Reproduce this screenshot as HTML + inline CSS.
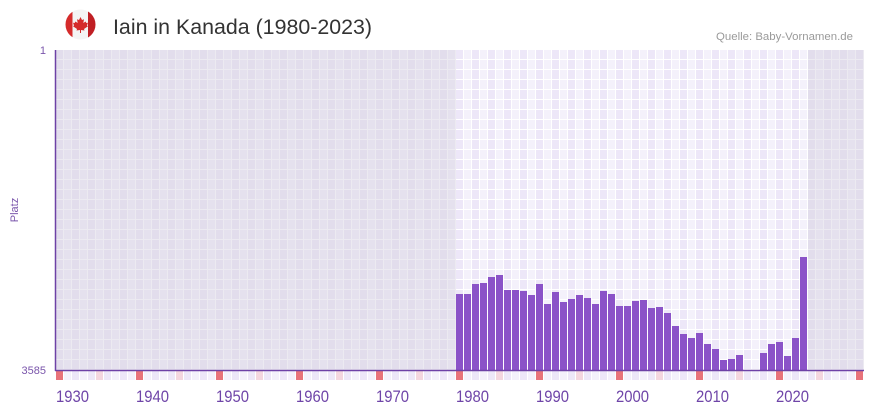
<!DOCTYPE html>
<html>
<head>
<meta charset="utf-8">
<style>
  html, body { margin:0; padding:0; background:#fff; }
  body { width:873px; height:412px; overflow:hidden; }
  svg { display:block; }
  text { font-family: "Liberation Sans", "DejaVu Sans", sans-serif; }
</style>
</head>
<body>
<svg width="873" height="412" viewBox="0 0 873 412" xmlns="http://www.w3.org/2000/svg">
  <defs>
    <pattern id="pd" x="56" y="50" width="16" height="10" patternUnits="userSpaceOnUse">
      <rect x="0" y="0" width="16" height="10" fill="#eceaf1"/>
      <rect x="0" y="0" width="7" height="9" fill="#e2ddec"/>
      <rect x="8" y="0" width="7" height="9" fill="#e5e1ee"/>
    </pattern>
    <pattern id="pl" x="56" y="50" width="16" height="10" patternUnits="userSpaceOnUse">
      <rect x="0" y="0" width="16" height="10" fill="#ffffff"/>
      <rect x="0" y="0" width="7" height="9" fill="#ede7f8"/>
      <rect x="8" y="0" width="7" height="9" fill="#f4f1fb"/>
    </pattern>
    <pattern id="ps" x="56" y="371" width="16" height="10" patternUnits="userSpaceOnUse">
      <rect x="0" y="0" width="16" height="10" fill="#ffffff"/>
      <rect x="0" y="0" width="7" height="9" fill="#ede7f8"/>
      <rect x="8" y="0" width="7" height="9" fill="#f4f1fb"/>
    </pattern>
    <clipPath id="flagclip"><circle cx="80.5" cy="24.5" r="15"/></clipPath>
  </defs>

  <g clip-path="url(#flagclip)">
    <rect x="65" y="9" width="31" height="31" fill="#f4f4f4"/>
    <rect x="65" y="9" width="7.5" height="31" fill="#d52b2b"/>
    <rect x="88" y="9" width="8" height="31" fill="#c01f24"/>
    <path d="M80.5 17 L82 20 L84 19.3 L83.3 23 L85.7 21.5 L86.3 23 L88 22.7 L87 25.5 L88 26.2 L84 29 L84.5 30.5 L81 30 L81 33 L80 33 L80 30 L76.5 30.5 L77 29 L73 26.2 L74 25.5 L73 22.7 L74.7 23 L75.3 21.5 L77.7 23 L77 19.3 L79 20 Z" fill="#d52b2b"/>
  </g>

  <text x="113" y="34" font-size="21.5" fill="#333333" textLength="259" lengthAdjust="spacingAndGlyphs">Iain in Kanada (1980-2023)</text>
  <text x="716" y="40" font-size="11" fill="#9a9a9a" textLength="137" lengthAdjust="spacingAndGlyphs">Quelle: Baby-Vornamen.de</text>

  <rect x="56" y="50" width="400" height="320" fill="url(#pd)"/>
  <rect x="456" y="50" width="352" height="320" fill="url(#pl)"/>
  <rect x="808" y="50" width="56" height="320" fill="url(#pd)"/>

  <rect x="56" y="371" width="808" height="10" fill="url(#ps)"/>
  <g fill="#e8737a">
    <rect x="56" y="371" width="7" height="9"/>
    <rect x="136" y="371" width="7" height="9"/>
    <rect x="216" y="371" width="7" height="9"/>
    <rect x="296" y="371" width="7" height="9"/>
    <rect x="376" y="371" width="7" height="9"/>
    <rect x="456" y="371" width="7" height="9"/>
    <rect x="536" y="371" width="7" height="9"/>
    <rect x="616" y="371" width="7" height="9"/>
    <rect x="696" y="371" width="7" height="9"/>
    <rect x="776" y="371" width="7" height="9"/>
    <rect x="856" y="371" width="7" height="9"/>
  </g>
  <g fill="#f4d6df">
    <rect x="96" y="371" width="7" height="9"/>
    <rect x="176" y="371" width="7" height="9"/>
    <rect x="256" y="371" width="7" height="9"/>
    <rect x="336" y="371" width="7" height="9"/>
    <rect x="416" y="371" width="7" height="9"/>
    <rect x="496" y="371" width="7" height="9"/>
    <rect x="576" y="371" width="7" height="9"/>
    <rect x="656" y="371" width="7" height="9"/>
    <rect x="736" y="371" width="7" height="9"/>
    <rect x="816" y="371" width="7" height="9"/>
  </g>

  <g fill="#8b53c8">
    <rect x="456" y="294" width="7" height="76"/>
    <rect x="464" y="294" width="7" height="76"/>
    <rect x="472" y="284" width="7" height="86"/>
    <rect x="480" y="283" width="7" height="87"/>
    <rect x="488" y="277" width="7" height="93"/>
    <rect x="496" y="275" width="7" height="95"/>
    <rect x="504" y="290" width="7" height="80"/>
    <rect x="512" y="290" width="7" height="80"/>
    <rect x="520" y="291" width="7" height="79"/>
    <rect x="528" y="295" width="7" height="75"/>
    <rect x="536" y="284" width="7" height="86"/>
    <rect x="544" y="304" width="7" height="66"/>
    <rect x="552" y="292" width="7" height="78"/>
    <rect x="560" y="302" width="7" height="68"/>
    <rect x="568" y="299" width="7" height="71"/>
    <rect x="576" y="295" width="7" height="75"/>
    <rect x="584" y="298" width="7" height="72"/>
    <rect x="592" y="304" width="7" height="66"/>
    <rect x="600" y="291" width="7" height="79"/>
    <rect x="608" y="294" width="7" height="76"/>
    <rect x="616" y="306" width="7" height="64"/>
    <rect x="624" y="306" width="7" height="64"/>
    <rect x="632" y="301" width="7" height="69"/>
    <rect x="640" y="300" width="7" height="70"/>
    <rect x="648" y="308" width="7" height="62"/>
    <rect x="656" y="307" width="7" height="63"/>
    <rect x="664" y="313" width="7" height="57"/>
    <rect x="672" y="326" width="7" height="44"/>
    <rect x="680" y="334" width="7" height="36"/>
    <rect x="688" y="338" width="7" height="32"/>
    <rect x="696" y="333" width="7" height="37"/>
    <rect x="704" y="344" width="7" height="26"/>
    <rect x="712" y="349" width="7" height="21"/>
    <rect x="720" y="360" width="7" height="10"/>
    <rect x="728" y="359" width="7" height="11"/>
    <rect x="736" y="355" width="7" height="15"/>
    <rect x="760" y="353" width="7" height="17"/>
    <rect x="768" y="344" width="7" height="26"/>
    <rect x="776" y="342" width="7" height="28"/>
    <rect x="784" y="356" width="7" height="14"/>
    <rect x="792" y="338" width="7" height="32"/>
    <rect x="800" y="257" width="7" height="113"/>
  </g>

  <line x1="55.5" y1="50" x2="55.5" y2="371" stroke="#6e42a6" stroke-width="1.5"/>
  <line x1="55" y1="370.5" x2="864" y2="370.5" stroke="#6e42a6" stroke-width="1.5"/>

  <text x="46" y="54" font-size="11" fill="#7a55ab" text-anchor="end">1</text>
  <text x="46" y="374" font-size="11" fill="#7a55ab" text-anchor="end">3585</text>
  <text x="18" y="210" font-size="11" fill="#7a55ab" text-anchor="middle" transform="rotate(-90 18 210)">Platz</text>

  <g font-size="17" fill="#6f45a8">
    <text x="56" y="402" textLength="33" lengthAdjust="spacingAndGlyphs">1930</text>
    <text x="136" y="402" textLength="33" lengthAdjust="spacingAndGlyphs">1940</text>
    <text x="216" y="402" textLength="33" lengthAdjust="spacingAndGlyphs">1950</text>
    <text x="296" y="402" textLength="33" lengthAdjust="spacingAndGlyphs">1960</text>
    <text x="376" y="402" textLength="33" lengthAdjust="spacingAndGlyphs">1970</text>
    <text x="456" y="402" textLength="33" lengthAdjust="spacingAndGlyphs">1980</text>
    <text x="536" y="402" textLength="33" lengthAdjust="spacingAndGlyphs">1990</text>
    <text x="616" y="402" textLength="33" lengthAdjust="spacingAndGlyphs">2000</text>
    <text x="696" y="402" textLength="33" lengthAdjust="spacingAndGlyphs">2010</text>
    <text x="776" y="402" textLength="33" lengthAdjust="spacingAndGlyphs">2020</text>
  </g>
</svg>
</body>
</html>
